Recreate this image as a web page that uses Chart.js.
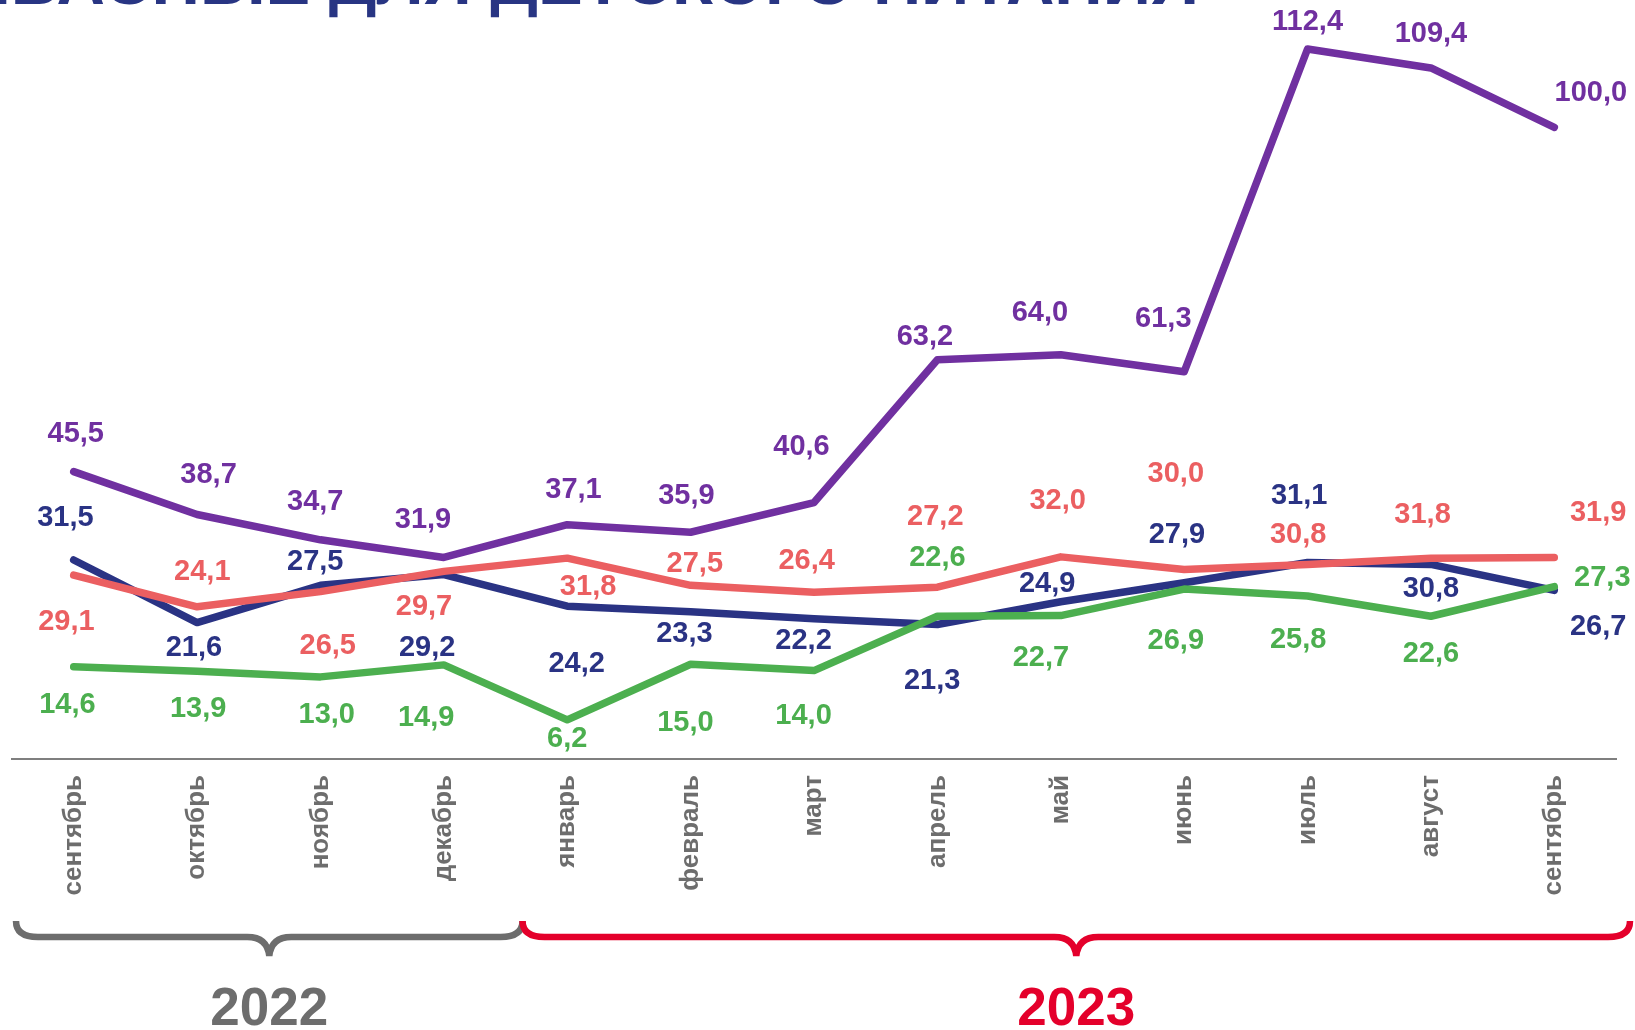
<!DOCTYPE html>
<html>
<head>
<meta charset="utf-8">
<script src="https://cdn.jsdelivr.net/npm/chart.js@4.4.1/dist/chart.umd.min.js"></script>
<style>
  html, body { margin: 0; padding: 0; background: #ffffff; }
  #wrap { width: 1635px; height: 1030px; position: relative; }
</style>
</head>
<body>
<div id="wrap"><canvas id="c" width="1635" height="1030"></canvas></div>
<script>
// ---- data ----
const months = ['сентябрь','октябрь','ноябрь','декабрь','январь','февраль','март','апрель','май','июнь','июль','август','сентябрь'];
const purpleValues = [45.5, 38.7, 34.7, 31.9, 37.1, 35.9, 40.6, 63.2, 64.0, 61.3, 112.4, 109.4, 100.0];
const redValues    = [29.1, 24.1, 26.5, 29.7, 31.8, 27.5, 26.4, 27.2, 32.0, 30.0, 30.8, 31.8, 31.9];
const greenValues  = [14.6, 13.9, 13.0, 14.9, 6.2, 15.0, 14.0, 22.6, 22.7, 26.9, 25.8, 22.6, 27.3];
const navyValues   = [31.5, 21.6, 27.5, 29.2, 24.2, 23.3, 22.2, 21.3, 24.9, 27.9, 31.1, 30.8, 26.7];
const years = ['2022', '2023'];
const titleText = 'ИЗДЕЛИЯ КОЛБАСНЫЕ ДЛЯ ДЕТСКОГО ПИТАНИЯ';

// ---- label placement (pixel offsets from the point) ----
const purpleLabelOffsets = [[2,-36],[11,-38],[-5,-36],[-20,-36],[6,-33],[-4,-35],[-12,-53],[-12,-22],[-20,-40],[-20,-51],[0,-26],[0,-33],[35,-33]];
const redLabelOffsets    = [[-7,45],[5,-33],[7,52],[-19,34],[20,28],[4,-20],[-7,-30],[-2,-67],[-3,-54],[-8,-92],[-9,-28],[-8,-41],[42,-43]];
const greenLabelOffsets  = [[-6,37],[1,36],[6,37],[-17,51],[0,18],[-5,56],[-10,44],[0,-56],[-19,41],[-8,50],[-9,42],[0,36],[46,-8]];
const navyLabelOffsets   = [[-8,-40],[-3,24],[-5,-22],[-16,70],[9,55],[-6,21],[-10,21],[-5,54],[-13,-17],[-7,-46],[-8,-64],[0,24],[42,35]];
const K = 1.043;

const FONT = '"Liberation Sans", Arial, Helvetica, sans-serif';
const COLORS = { purple: '#7030a0', red: '#eb5f61', green: '#4caf4f', navy: '#2a3384' };
const yearColors = ['#6d6d6d', '#e4002b'];

function fmt(v) { return v.toFixed(1).replace('.', ','); }

const labelPlugin = {
  id: 'pointLabels',
  afterDatasetsDraw(chart) {
    const ctx = chart.ctx;
    ctx.save();
    ctx.font = 'bold 29px ' + FONT;
    ctx.textAlign = 'center';
    ctx.textBaseline = 'middle';
    chart.data.datasets.forEach((ds, di) => {
      const meta = chart.getDatasetMeta(di);
      meta.data.forEach((pt, i) => {
        const off = ds.labelOffsets[i];
        ctx.fillStyle = ds.borderColor;
        ctx.fillText(fmt(ds.data[i]), pt.x + off[0] * K, pt.y + off[1] * K);
      });
    });
    ctx.restore();
  }
};

function drawBrace(ctx, x0, x1, yTop, yMid, yTip, color) {
  const tip = (x0 + x1) / 2;
  const r = 22;
  ctx.save();
  ctx.strokeStyle = color;
  ctx.lineWidth = 6.5;
  ctx.lineCap = 'butt';
  ctx.lineJoin = 'round';
  ctx.beginPath();
  ctx.moveTo(x0, yTop);
  ctx.quadraticCurveTo(x0, yMid, x0 + r, yMid);
  ctx.lineTo(tip - r, yMid);
  ctx.quadraticCurveTo(tip - 2, yMid, tip, yTip);
  ctx.moveTo(tip, yTip);
  ctx.quadraticCurveTo(tip + 2, yMid, tip + r, yMid);
  ctx.lineTo(x1 - r, yMid);
  ctx.quadraticCurveTo(x1, yMid, x1, yTop);
  ctx.stroke();
  ctx.restore();
}

const decorPlugin = {
  id: 'decor',
  afterDraw(chart) {
    const ctx = chart.ctx;
    const xs = chart.scales.x;
    // title (cut off at the top of the picture)
    ctx.save();
    ctx.font = 'bold 67px ' + FONT;
    ctx.fillStyle = '#283583';
    ctx.textAlign = 'right';
    ctx.textBaseline = 'alphabetic';
    ctx.fillText(titleText, 1199, 4);
    ctx.restore();
    // braces + years
    const half = (xs.getPixelForValue(1) - xs.getPixelForValue(0)) / 2;
    const split = (xs.getPixelForValue(3) + xs.getPixelForValue(4)) / 2 + 17;
    const bounds = [
      [chart.chartArea.left + 4, split],
      [split, xs.getPixelForValue(12) + half + 14]
    ];
    years.forEach((y, i) => {
      const [a, b] = bounds[i];
      drawBrace(ctx, a, b, 921, 937, 956, yearColors[i]);
      ctx.save();
      ctx.font = 'bold 53px ' + FONT;
      ctx.fillStyle = yearColors[i];
      ctx.textAlign = 'center';
      ctx.textBaseline = 'alphabetic';
      ctx.fillText(y, (a + b) / 2, 1025);
      ctx.restore();
    });
  }
};

function ds(label, data, color, offsets) {
  return {
    label, data,
    borderColor: color,
    backgroundColor: color,
    borderWidth: 7.5,
    borderCapStyle: 'round',
    borderJoinStyle: 'round',
    pointRadius: 0,
    tension: 0,
    fill: false,
    labelOffsets: offsets
  };
}

new Chart(document.getElementById('c'), {
  type: 'line',
  data: {
    labels: months,
    datasets: [
      ds('purple', purpleValues, COLORS.purple, purpleLabelOffsets),
      ds('red', redValues, COLORS.red, redLabelOffsets),
      ds('green', greenValues, COLORS.green, greenLabelOffsets),
      ds('navy', navyValues, COLORS.navy, navyLabelOffsets)
    ]
  },
  options: {
    responsive: false,
    animation: false,
    devicePixelRatio: 1,
    layout: { padding: { left: 12, right: 19, top: 1, bottom: 0 } },
    plugins: { legend: { display: false }, tooltip: { enabled: false }, title: { display: false } },
    scales: {
      x: {
        offset: true,
        grid: { display: false, drawTicks: false },
        border: { display: true, color: '#7f7f7f', width: 2 },
        ticks: {
          color: '#6d6d6d',
          font: { family: FONT, size: 26, weight: 'bold' },
          minRotation: 90, maxRotation: 90,
          padding: 16,
          autoSkip: false
        },
        afterFit(scale) { scale.height = 271; }
      },
      y: {
        display: false,
        min: 0, max: 120
      }
    }
  },
  plugins: [labelPlugin, decorPlugin]
});
</script>
</body>
</html>
